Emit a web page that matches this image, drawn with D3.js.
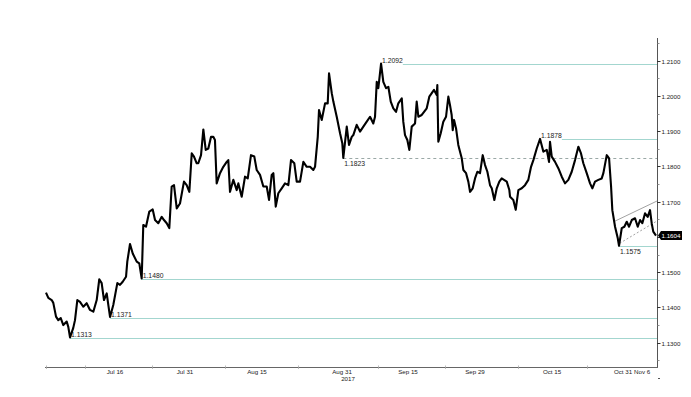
<!DOCTYPE html>
<html>
<head>
<meta charset="utf-8">
<script src="https://cdn.jsdelivr.net/npm/d3@7"></script>
<style>
  html, body { margin: 0; padding: 0; background: #fff; }
  svg { display: block; font-family: "Liberation Sans", Arial, sans-serif; }
</style>
</head>
<body>
<svg id="chart" width="691" height="397"></svg>
<script>
// ---- DATA (trading-day offset from Jun 30 2017, EUR/USD price) ----
const days = [0.15,0.50,1.01,1.25,1.66,2.00,2.37,2.76,3.27,3.51,3.77,4.26,4.52,4.87,5.27,5.77,6.28,6.78,7.28,7.79,
  8.18,8.54,8.89,9.30,9.54,9.80,10.29,10.90,11.30,11.71,12.21,12.40,12.81,13.22,13.82,14.21,14.57,14.81,15.22,15.72,
  16.23,16.58,17.07,17.59,17.93,18.34,18.73,19.09,19.44,19.85,20.34,20.94,21.35,21.75,22.11,22.45,22.86,23.10,23.51,23.86,
  24.22,24.61,25.02,25.36,25.61,25.87,26.37,26.87,27.38,27.62,27.88,28.38,28.89,29.13,29.64,30.14,30.55,31.04,31.54,31.90,
  32.40,32.90,33.41,33.76,34.16,34.41,34.77,35.16,35.67,36.17,36.67,37.07,37.57,37.93,38.43,38.93,39.44,39.94,40.43,40.69,
  41.10,41.29,41.70,42.20,42.60,42.80,43.21,43.45,43.96,44.46,44.80,44.95,45.47,45.81,46.22,46.46,46.97,47.47,47.97,48.48,
  48.98,49.47,49.73,49.99,50.23,50.64,50.98,51.39,51.74,52.10,52.49,52.90,53.24,53.76,53.99,54.25,54.60,54.90,55.26,55.76,
  56.01,56.26,56.77,57.12,57.52,57.91,58.28,58.62,59.03,59.12,59.27,59.63,60.02,60.43,60.78,61.03,61.28,61.44,61.64,61.94,
  62.28,62.54,62.80,63.04,63.45,63.79,64.05,64.45,64.80,65.15,65.55,65.96,66.31,66.66,67.06,67.32,67.71,68.07,68.46,68.82,
  69.17,69.58,69.97,70.08,70.57,70.93,71.33,71.84,72.33,72.83,73.24,73.59,74.10,74.60,75.10,75.61,75.95,76.10,76.36,76.86,
  77.35,77.87,78.36,78.86,79.37,79.87,80.37,80.77,81.12,81.63,82.13,82.48,82.88,83.38,83.89,84.14,84.65,85.00,85.30,85.49,
  85.90,86.31,86.50,86.91,87.30,87.66,88.01,88.42,88.91,89.32,89.67,90.01,90.42,90.82,91.17,91.42,91.66,92.07];
const prices = [1.1442,1.1427,1.1421,1.1413,1.1374,1.1364,1.1370,1.1350,1.1360,1.1345,1.1315,1.1342,1.1364,1.1421,1.1416,1.1402,1.1412,1.1393,1.1388,1.1421,
  1.1480,1.1469,1.1421,1.1440,1.1407,1.1373,1.1407,1.1469,1.1464,1.1473,1.1487,1.1530,1.1580,1.1553,1.1530,1.1525,1.1482,1.1634,1.1629,1.1672,
  1.1678,1.1648,1.1639,1.1657,1.1648,1.1639,1.1625,1.1743,1.1747,1.1681,1.1695,1.1757,1.1747,1.1728,1.1837,1.1828,1.1809,1.1809,1.1832,1.1905,
  1.1847,1.1851,1.1884,1.1884,1.1875,1.1752,1.1781,1.1799,1.1813,1.1818,1.1728,1.1762,1.1733,1.1752,1.1714,1.1771,1.1766,1.1832,1.1828,1.1790,
  1.1776,1.1743,1.1743,1.1705,1.1776,1.1781,1.1686,1.1724,1.1738,1.1752,1.1747,1.1818,1.1809,1.1757,1.1757,1.1813,1.1799,1.1799,1.1790,1.1799,
  1.1884,1.1960,1.1932,1.1979,1.1979,1.2064,1.2008,1.1984,1.1941,1.1894,1.1866,1.1824,1.1913,1.1861,1.1884,1.1889,1.1918,1.1899,1.1913,1.1927,
  1.1941,1.1922,1.1941,1.2040,1.2022,1.2092,1.2040,1.2022,1.2026,1.1984,1.1965,1.1955,1.1979,1.1993,1.1927,1.1889,1.1875,1.1847,1.1913,1.1922,
  1.1984,1.1941,1.1946,1.1955,1.1965,1.1998,1.2008,1.2017,1.2003,1.2031,1.1870,1.1894,1.1927,1.1941,1.1998,1.1974,1.1946,1.1903,1.1932,1.1908,
  1.1861,1.1842,1.1823,1.1790,1.1781,1.1757,1.1728,1.1738,1.1766,1.1785,1.1781,1.1832,1.1804,1.1785,1.1747,1.1738,1.1705,1.1738,1.1757,1.1766,
  1.1762,1.1757,1.1733,1.1714,1.1705,1.1677,1.1733,1.1738,1.1747,1.1762,1.1799,1.1818,1.1851,1.1878,1.1842,1.1847,1.1813,1.1870,1.1828,1.1813,
  1.1795,1.1771,1.1752,1.1762,1.1785,1.1818,1.1856,1.1837,1.1809,1.1781,1.1752,1.1738,1.1757,1.1762,1.1766,1.1781,1.1832,1.1823,1.1743,1.1676,
  1.1629,1.1596,1.1575,1.1625,1.1629,1.1643,1.1629,1.1648,1.1653,1.1629,1.1648,1.1639,1.1667,1.1657,1.1676,1.1639,1.1615,1.1604];

const xTickLabels = ["Jul 16","Jul 31","Aug 15","Aug 31","Sep 15","Sep 29","Oct 15","Oct 31","Nov 6"];
const xTickDays   = [10.55, 21.10, 31.95, 44.76, 54.70, 64.80, 76.40, 87.10, 89.97];
const xMinorDays  = [0.15, 6.03, 16.12, 27.13, 38.13, 50.18, 60.28, 71.28, 81.68];
const yearLabel = "2017";
const yTicks = [1.13,1.14,1.15,1.16,1.17,1.18,1.19,1.20,1.21];
const yMinor = [1.125,1.135,1.145,1.155,1.165,1.175,1.185,1.195,1.205,1.215];

const levelValues = [1.2092, 1.1878, 1.1823, 1.1575, 1.1480, 1.1371, 1.1313];
const levelDays   = [50.64, 74.60, 44.95, 86.50, 14.57, 9.80, 3.77];
const levelKinds  = ["solidAbove","solidAbove","dashedBelow","solidBelow","solidAbove","solidAbove","solidAbove"];

const trendUpperDays = [85.90, 92.23], trendUpperVals = [1.1645, 1.1702];
const trendLowerDays = [86.60, 92.10], trendLowerVals = [1.1582, 1.1644];
const lastPrice = 1.1604;

// ---- CHART ----
const svg = d3.select("#chart");
const x = d3.scaleLinear().domain([0, 92.07]).range([45, 656]);
const y = d3.scaleLinear().domain([1.13, 1.21]).range([342.7, 60.7]);
const axisX = 657, axisTop = 38, axisBottom = 367;

const teal = "#a3d6cf";

// levels
levelValues.forEach((v, i) => {
  const kind = levelKinds[i];
  const lx = x(levelDays[i]);
  const ly = Math.round(y(v)) + 0.5;
  const label = v.toFixed(4);
  const t = svg.append("text")
    .attr("x", lx + 1)
    .attr("y", kind.endsWith("Below") ? ly + 7.5 : ly - 1.5)
    .attr("font-size", 6.8).attr("fill", "#222")
    .text(label);
  let startX = lx;
  if (i < 2) startX = lx + t.node().getComputedTextLength() + 1;
  svg.append("line")
    .attr("x1", startX).attr("x2", axisX)
    .attr("y1", ly).attr("y2", ly)
    .attr("stroke", kind.startsWith("dashed") ? "#9aa8a6" : teal)
    .attr("stroke-width", 1)
    .attr("stroke-dasharray", kind.startsWith("dashed") ? "3,3" : null);
});

// trend channel
svg.append("line")
  .attr("x1", x(trendUpperDays[0])).attr("y1", y(trendUpperVals[0]))
  .attr("x2", x(trendUpperDays[1])).attr("y2", y(trendUpperVals[1]))
  .attr("stroke", "#8a8a8a").attr("stroke-width", 0.8);
svg.append("line")
  .attr("x1", x(trendLowerDays[0])).attr("y1", y(trendLowerVals[0]))
  .attr("x2", x(trendLowerDays[1])).attr("y2", y(trendLowerVals[1]))
  .attr("stroke", "#8a8a8a").attr("stroke-width", 0.8).attr("stroke-dasharray", "2,2");

// price line
const pts = days.map((d, i) => [d, prices[i]]);
svg.append("path")
  .datum(pts)
  .attr("fill", "none")
  .attr("stroke", "#000")
  .attr("stroke-width", 2.1)
  .attr("stroke-linejoin", "round")
  .attr("d", d3.line().x(d => x(d[0])).y(d => y(d[1])));

// right axis
svg.append("line").attr("x1", axisX + 0.5).attr("x2", axisX + 0.5)
  .attr("y1", axisTop).attr("y2", axisBottom).attr("stroke", "#555").attr("stroke-width", 1);
yMinor.forEach(v => {
  const yy = Math.round(y(v)) + 0.5;
  if (yy < axisTop || yy > axisBottom) return;
  svg.append("line").attr("x1", axisX).attr("x2", axisX + 2.5).attr("y1", yy).attr("y2", yy)
    .attr("stroke", "#777").attr("stroke-width", 0.8);
});
const tagY = y(lastPrice);
yTicks.forEach(v => {
  const yy = Math.round(y(v)) + 0.5;
  svg.append("line").attr("x1", axisX).attr("x2", axisX + 3.5).attr("y1", yy).attr("y2", yy)
    .attr("stroke", "#333").attr("stroke-width", 1);
  if (Math.abs(yy - tagY) < 9) return; // hidden behind the last-price tag
  svg.append("text").attr("x", axisX + 4.5).attr("y", yy + 2.2)
    .attr("font-size", 6.2).attr("fill", "#222").text(v.toFixed(4));
});

// last price tag
svg.append("path")
  .attr("d", `M${axisX + 1},${tagY} L${axisX + 4},${tagY - 4.5} L${axisX + 25},${tagY - 4.5} L${axisX + 25},${tagY + 4.5} L${axisX + 4},${tagY + 4.5} Z`)
  .attr("fill", "#000");
svg.append("text").attr("x", axisX + 4.5).attr("y", tagY + 2.2)
  .attr("font-size", 6.2).attr("fill", "#fff").text(lastPrice.toFixed(4));

// bottom axis
svg.append("line").attr("x1", 45).attr("x2", axisX + 1).attr("y1", axisBottom + 0.5).attr("y2", axisBottom + 0.5)
  .attr("stroke", "#666").attr("stroke-width", 1);
xMinorDays.forEach(d => {
  const xx = Math.round(x(d)) + 0.5;
  svg.append("line").attr("x1", xx).attr("x2", xx).attr("y1", axisBottom - 1.5).attr("y2", axisBottom + 2)
    .attr("stroke", "#aaa").attr("stroke-width", 0.8);
});
xTickLabels.forEach((lab, i) => {
  svg.append("text").attr("x", x(xTickDays[i])).attr("y", 373.5)
    .attr("text-anchor", "middle").attr("font-size", 6.2).attr("fill", "#222").text(lab);
});
svg.append("text").attr("x", x(xTickDays[3]) + 6).attr("y", 380.5)
  .attr("text-anchor", "middle").attr("font-size", 6.2).attr("fill", "#222").text(yearLabel);

// small marker below axis corner
svg.append("line").attr("x1", axisX + 1).attr("x2", axisX + 3).attr("y1", 378.5).attr("y2", 378.5)
  .attr("stroke", "#555").attr("stroke-width", 1);
</script>
</body>
</html>
